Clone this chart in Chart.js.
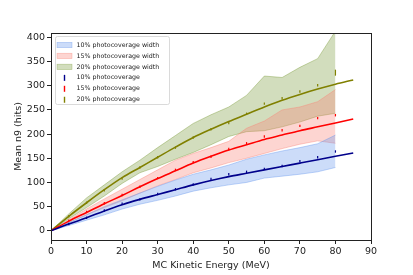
<!DOCTYPE html>
<html>
<head>
<meta charset="utf-8">
<script src="https://cdn.jsdelivr.net/npm/chart.js@4"></script>
<style>
    html, body { margin: 0; padding: 0; background: #fff; }
    #wrap { width: 413px; height: 275px; }
</style>
</head>
<body>
<div id="wrap"><canvas id="chart" width="413" height="275"></canvas></div>
<script>
// Energies (MeV) of the measured points and of the fitted curves
const energies = [0, 5, 10, 15, 20, 25, 30, 35, 40, 45, 50, 55, 60, 65, 70, 75, 80];
const fitEnergies = [0, 5, 10, 15, 20, 25, 30, 35, 40, 45, 50, 55, 60, 65, 70, 75, 80, 85];
const yTicks = [0, 50, 100, 150, 200, 250, 300, 350, 400];
const xTicks = [0, 10, 20, 30, 40, 50, 60, 70, 80, 90];

// 10% photocoverage
const points10 = [0, 14, 27, 42, 56, 65, 76, 86, 96, 107, 117, 122, 128, 134, 144, 152, 164];
const fit10 = [0, 14, 27, 41, 54, 65, 75, 85, 95, 104, 112, 119, 126, 133, 140, 147, 154, 161];
const upper10 = [0, 17, 33, 50, 64, 78, 92, 105, 117, 126, 136, 148, 157, 165, 172, 180, 198];
const lower10 = [0, 11, 22, 33, 45, 55, 63, 72, 82, 89, 95, 100, 109, 113, 117, 122, 131];

// 15% photocoverage
const points15 = [0, 21, 39, 57, 74, 91, 109, 126, 142, 153, 169, 181, 195, 208, 217, 233, 239];
const fit15 = [0, 20, 38, 56, 73, 91, 108, 124, 140, 154, 167, 178, 189, 198, 207, 215, 223, 231];
const upper15 = [0, 23, 45, 66, 86, 106, 126, 146, 160, 172, 185, 212, 227, 250, 256, 267, 292];
const lower15 = [0, 17, 33, 48, 62, 78, 93, 106, 120, 130, 141, 150, 160, 170, 179, 186, 181];

// 20% photocoverage
const points20 = [0, 30, 58, 84, 108, 131, 152, 172, 193, 210, 223, 242, 263, 274, 288, 301, 327];
const fit20 = [0, 30, 58, 85, 110, 131, 152, 173, 193, 210, 226, 241, 256, 270, 282, 293, 303, 312];
const upper20 = [0, 35, 68, 95, 122, 146, 172, 197, 222, 240, 256, 280, 320, 317, 338, 356, 413];
const lower20 = [0, 25, 48, 72, 98, 120, 133, 148, 162, 178, 195, 205, 207, 215, 225, 237, 243];

const series = [
    { label: '10%', line: '#00008b', band: 'rgba(100, 149, 237, 0.33)', edge: 'rgba(100, 149, 237, 0.5)',
      points: points10, fit: fit10, upper: upper10, lower: lower10 },
    { label: '15%', line: '#ff0000', band: 'rgba(250, 128, 114, 0.33)', edge: 'rgba(250, 128, 114, 0.5)',
      points: points15, fit: fit15, upper: upper15, lower: lower15 },
    { label: '20%', line: '#808000', band: 'rgba(107, 142, 35, 0.3)', edge: 'rgba(107, 142, 35, 0.45)',
      points: points20, fit: fit20, upper: upper20, lower: lower20 }
];

const FONT = 'DejaVu Sans';

function pairs(xs, ys) {
    return ys.map((y, i) => ({ x: xs[i], y: y }));
}

// Build bands, fitted curves and points for each photocoverage
function buildDatasets() {
    const datasets = [];
    series.forEach((s) => {
        datasets.push({
            data: pairs(energies, s.upper),
            borderColor: s.edge, borderWidth: 0.8, backgroundColor: s.band,
            pointRadius: 0, fill: '+1', order: 3, tension: 0
        });
        datasets.push({
            data: pairs(energies, s.lower),
            borderColor: s.edge, borderWidth: 0.8,
            pointRadius: 0, fill: false, order: 3, tension: 0
        });
    });
    series.forEach((s) => {
        datasets.push({
            data: pairs(fitEnergies, s.fit),
            borderColor: s.line, borderWidth: 1.6,
            pointRadius: 0, fill: false, order: 2,
            cubicInterpolationMode: 'monotone'
        });
        // the last 20% point carries a longer error bar
        const radii = s.points.map((v, i) => (i === s.points.length - 1 && s.label === '20%') ? 3 : 1.2);
        datasets.push({
            data: pairs(energies, s.points),
            showLine: false, fill: false, order: 1,
            pointStyle: 'line', rotation: 90,
            pointRadius: radii, pointBorderWidth: 1.2,
            pointBorderColor: s.line, pointBackgroundColor: s.line
        });
    });
    return datasets;
}

// Frame around the plot and the legend in its upper left corner
const framePlugin = {
    id: 'frame',
    afterDatasetsDraw(chart) {
        const ctx = chart.ctx;
        const a = chart.chartArea;
        ctx.save();
        ctx.strokeStyle = '#222';
        ctx.lineWidth = 1;
        ctx.strokeRect(a.left + 0.5, a.top + 0.5, a.right - a.left, a.bottom - a.top);

        // legend box
        const bx = a.left + 4, by = a.top + 3, bw = 114, bh = 68;
        ctx.fillStyle = 'rgba(255,255,255,0.85)';
        ctx.strokeStyle = '#d0d0d0';
        ctx.lineWidth = 0.8;
        ctx.beginPath();
        ctx.roundRect(bx + 0.5, by + 0.5, bw, bh, 2);
        ctx.fill();
        ctx.stroke();

        ctx.font = '6.3px "' + FONT + '"';
        ctx.textBaseline = 'middle';
        ctx.textAlign = 'left';
        const rowH = 10.95;
        series.forEach((s, i) => {
            const cy = by + 9 + i * rowH;
            ctx.fillStyle = s.band;
            ctx.fillRect(bx + 2, cy - 2.7, 15, 5.4);
            ctx.strokeStyle = s.edge;
            ctx.lineWidth = 0.6;
            ctx.strokeRect(bx + 2, cy - 2.7, 15, 5.4);
            ctx.fillStyle = '#222';
            ctx.fillText(s.label + ' photocoverage width', bx + 21.5, cy);
        });
        series.forEach((s, i) => {
            const cy = by + 9 + (i + 3) * rowH;
            ctx.strokeStyle = s.line;
            ctx.lineWidth = 1.4;
            ctx.beginPath();
            ctx.moveTo(bx + 9.5, cy - 3);
            ctx.lineTo(bx + 9.5, cy + 3);
            ctx.stroke();
            ctx.fillStyle = '#222';
            ctx.fillText(s.label + ' photocoverage', bx + 21.5, cy);
        });
        ctx.restore();
    }
};

const tickFont = { family: FONT, size: 9.5 };

new Chart(document.getElementById('chart').getContext('2d'), {
    type: 'line',
    data: { datasets: buildDatasets() },
    plugins: [framePlugin],
    options: {
        responsive: false,
        animation: false,
        layout: { padding: { top: 33, right: 42, left: 0, bottom: 0 } },
        plugins: { legend: { display: false }, tooltip: { enabled: false } },
        scales: {
            x: {
                type: 'linear', min: 0, max: 90,
                afterBuildTicks: (scale) => { scale.ticks = xTicks.map((v) => ({ value: v })); },
                afterFit: (scale) => { scale.height = 35; },
                grid: { drawOnChartArea: false, drawTicks: true, tickLength: 4, color: '#222' },
                border: { display: true, color: '#222' },
                ticks: { font: tickFont, color: '#222', padding: 2, maxRotation: 0 },
                title: { display: true, text: 'MC Kinetic Energy (MeV)', font: tickFont, color: '#222',
                         padding: { top: 0, bottom: 4 } }
            },
            y: {
                type: 'linear', min: -19, max: 409,
                afterBuildTicks: (scale) => { scale.ticks = yTicks.map((v) => ({ value: v })); },
                afterFit: (scale) => { scale.width = 51; },
                grid: { drawOnChartArea: false, drawTicks: true, tickLength: 4, color: '#222' },
                border: { display: true, color: '#222' },
                ticks: { font: tickFont, color: '#222', padding: 2 },
                title: { display: true, text: 'Mean n9 (hits)', font: tickFont, color: '#222',
                         padding: { top: 13, bottom: 0 } }
            }
        }
    }
});
</script>
</body>
</html>
